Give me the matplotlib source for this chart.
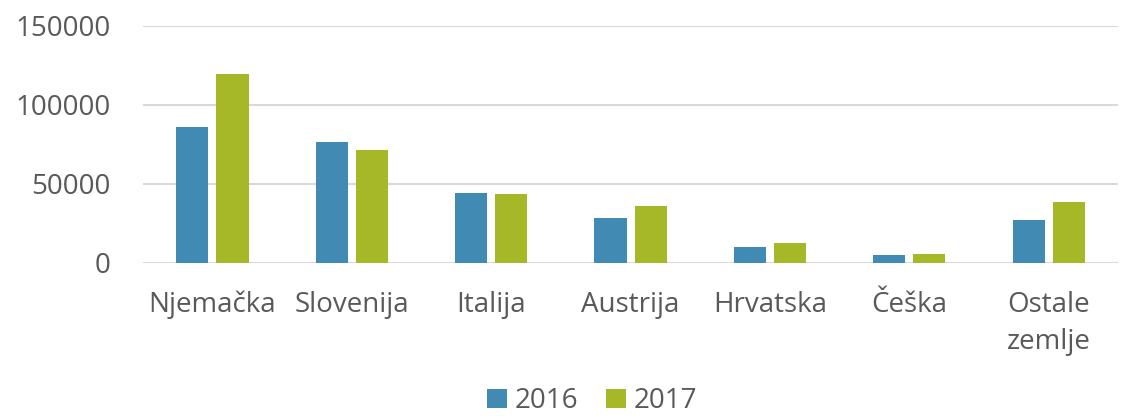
import numpy as np
import matplotlib.pyplot as plt

# Data
categories = ['Njemačka', 'Slovenija', 'Italija', 'Austrija', 'Hrvatska', 'Češka', 'Ostale\nzemlje']
values_2016 = [86100, 76800, 44100, 28500, 10100, 4900, 27200]
values_2017 = [119600, 71500, 43500, 36100, 12700, 5900, 38800]
series_labels = ['2016', '2017']

BLUE = '#418ab3'
GREEN = '#a6b727'
GRID = '#d9d9d9'
TEXT = '#595959'

plt.rcParams['font.family'] = ['Open Sans', 'DejaVu Sans']

fig = plt.figure(figsize=(11.24, 4.16), dpi=100)
ax = fig.add_axes([0.127, 0.368, 0.868, 0.5695])

x = np.arange(len(categories))
w = 0.23
ax.bar(x - 0.144, values_2016, w, color=BLUE, label=series_labels[0], zorder=3)
ax.bar(x + 0.144, values_2017, w, color=GREEN, label=series_labels[1], zorder=3)

ax.set_xlim(-0.5, len(categories) - 0.5)
ax.set_ylim(0, 150000)
ax.set_yticks([0, 50000, 100000, 150000])
ax.set_yticklabels(['0', '50000', '100000', '150000'])
ax.set_xticks(x)
ax.set_xticklabels(categories, linespacing=1.45)
ax.grid(axis='y', color=GRID, linewidth=1.5, zorder=0)
ax.set_axisbelow(True)

for s in ax.spines.values():
    s.set_visible(False)
ax.tick_params(axis='both', length=0, labelsize=20, colors=TEXT)
ax.tick_params(axis='x', pad=20)
ax.tick_params(axis='y', pad=23)
for lbl in ax.get_xticklabels():
    lbl.set_verticalalignment('top')

# legend sits at the very bottom edge, as in the original
leg = fig.legend(loc='center', bbox_to_anchor=(0.527, 0.036), ncol=2, frameon=False,
                 fontsize=20, handlelength=0.7, handleheight=0.7, handletextpad=0.3,
                 columnspacing=1.0, labelcolor=TEXT)

fig.savefig('out.png', dpi=100)
